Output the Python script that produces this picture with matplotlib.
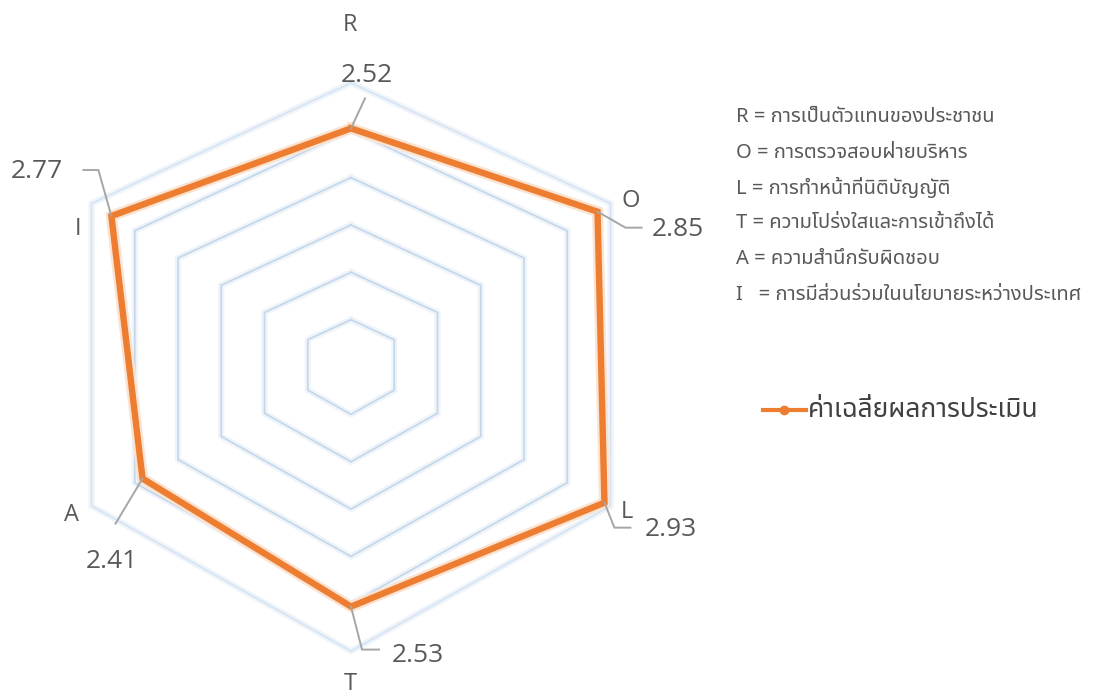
import matplotlib
matplotlib.use('Agg')
import matplotlib.pyplot as plt
from matplotlib import font_manager, ft2font

# data
categories = ['R', 'O', 'L', 'T', 'A', 'I']
values = [2.52, 2.85, 2.93, 2.53, 2.41, 2.77]
value_labels = ['2.52', '2.85', '2.93', '2.53', '2.41', '2.77']
rings = [0.5, 1.0, 1.5, 2.0, 2.5, 3.0]
legend_notes = ['R = การเป็นตัวแทนของประชาชน',
                'O = การตรวจสอบฝ่ายบริหาร',
                'L = การทำหน้าที่นิติบัญญัติ',
                'T = ความโปร่งใสและการเข้าถึงได้',
                'A = ความสำนึกรับผิดชอบ',
                'I   = การมีส่วนร่วมในนโยบายระหว่างประเทศ']
series_name = 'ค่าเฉลี่ยผลการประเมิน'

# find a font that has thai glyphs
thai = None
cands = []
for f in font_manager.fontManager.ttflist:
    try:
        cm = ft2font.FT2Font(f.fname).get_charmap()
    except Exception:
        continue
    if 0x0E01 in cm and 0x0E40 in cm and 0x0E49 in cm:
        cands.append(f.name)
for pref in ['Noto Sans Thai', 'Noto Sans Thai UI', 'Leelawadee UI', 'Tahoma', 'Loma', 'Garuda', 'Umpush']:
    if pref in cands:
        thai = pref
        break
if thai is None and cands:
    thai = cands[0]
fam = ['Open Sans', 'DejaVu Sans']
thai_fam = ([thai] if thai else []) + ['DejaVu Sans']

# axis directions (pixels per unit value), picture is a bit skewed
cx, cy = 351, 367
dirs = [(0, -94.7), (86.5, -54.5), (86.5, 46.3), (0, 94.7), (-86.5, 46.3), (-86.5, -54.5)]

fig = plt.figure(figsize=(11.1, 6.97), dpi=100)
ax = fig.add_axes([0, 0, 1, 1])
ax.set_xlim(0, 1110)
ax.set_ylim(697, 0)
ax.axis('off')

def pts(vals):
    xs = [cx + v * d[0] for v, d in zip(vals, dirs)]
    ys = [cy + v * d[1] for v, d in zip(vals, dirs)]
    return xs + xs[:1], ys + ys[:1]

# grid hexagons
for r in rings:
    xs, ys = pts([r] * 6)
    ax.plot(xs, ys, color='#eef4fa', lw=4.5, zorder=1, solid_joinstyle='miter')
    c = '#d6e4f2' if r == rings[-1] else '#c3d6ea'
    ax.plot(xs, ys, color=c, lw=1.2, zorder=2, solid_joinstyle='miter')

# series
xs, ys = pts(values)
ax.plot(xs, ys, color='#fbe3d2', lw=8, zorder=3, solid_joinstyle='miter')
ax.plot(xs, ys, color='#ed7d31', lw=4.6, zorder=4, solid_joinstyle='miter')

# category labels
cat_pos = [(350, 25), (631, 201), (627, 512), (350, 684), (72, 515), (78, 229)]
for c, (x, y) in zip(categories, cat_pos):
    ax.text(x, y, c, ha='center', va='center', fontsize=17, color='#595959', family=fam)

# data labels with leader lines
lead = [[(0, 0), (14, -30)],
        [(0, 0), (28, 16), (44, 16)],
        [(0, 0), (10, 25), (26, 25)],
        [(0, 0), (11, 43), (28, 43)],
        [(0, 0), (-27, 45)],
        [(0, 0), (-13, -46), (-28, -46)]]
lab_pos = [(367, 76), (678, 229), (671, 529), (418, 655), (112, 562), (37, 172)]
for i in range(6):
    vx = cx + values[i] * dirs[i][0]
    vy = cy + values[i] * dirs[i][1]
    ax.plot([vx + p[0] for p in lead[i]], [vy + p[1] for p in lead[i]],
            color='#a6a6a6', lw=1.4, zorder=5)
    ax.text(lab_pos[i][0], lab_pos[i][1], value_labels[i], ha='center', va='center',
            fontsize=19, color='#595959', family=fam)

# legend notes
for i, s in enumerate(legend_notes):
    ax.text(736, 117 + i * 35.5, s, ha='left', va='center', fontsize=14.5,
            color='#595959', family=thai_fam)

ax.plot([763, 806], [410, 410], color='#ed7d31', lw=3, zorder=5)
ax.plot([784], [410], 'o', color='#ed7d31', ms=6, zorder=6)
ax.text(808, 410, series_name, ha='left', va='center', fontsize=19,
        color='#404040', family=thai_fam)

fig.savefig('out.png', dpi=100)
